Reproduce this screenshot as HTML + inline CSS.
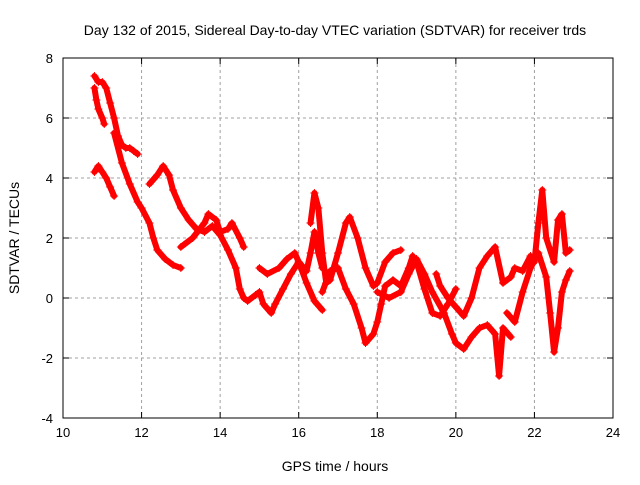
<!DOCTYPE html>
<html><head><meta charset="utf-8"><style>
body{margin:0;background:#fff;}
svg text{font-family:"Liberation Sans",sans-serif;fill:#000;}
</style></head><body>
<svg id="chart" width="640" height="480">
<text x="335" y="35" font-size="14" text-anchor="middle">Day 132 of 2015, Sidereal Day-to-day VTEC variation (SDTVAR) for receiver trds</text>
<text x="335" y="471" font-size="14" text-anchor="middle">GPS time / hours</text>
<text transform="translate(19,238) rotate(-90)" font-size="14" text-anchor="middle">SDTVAR / TECUs</text>
<g id="grid"></g>
<g id="ticks"></g>
<g id="series"></g>
<rect x="63" y="58" width="550" height="360" fill="none" stroke="#000" stroke-width="1"/>
</svg>
<script>
const xTicks=[10,12,14,16,18,20,22,24];
const yTicks=[-4,-2,0,2,4,6,8];
const trackA=[[10.8,7.4],[10.9,7.2],[11.0,7.2],[11.1,7.0],[11.2,6.5],[11.3,6.0],[11.4,5.4],[11.5,5.1],[11.6,5.0],[11.7,5.0],[11.8,4.9],[11.9,4.8]];
const trackB=[[10.8,7.0],[10.85,6.6],[10.9,6.3],[11.0,6.0],[11.05,5.8]];
const trackB2=[[10.8,4.2],[10.9,4.4],[11.0,4.2],[11.1,4.0],[11.2,3.7],[11.3,3.4]];
const trackC=[[11.3,5.5],[11.5,4.5],[11.7,3.8],[11.9,3.2],[12.0,3.0],[12.2,2.5],[12.3,2.0],[12.4,1.6],[12.6,1.3],[12.8,1.1],[13.0,1.0]];
const trackD=[[12.2,3.8],[12.4,4.1],[12.55,4.4],[12.7,4.1],[12.8,3.6],[13.0,3.0],[13.2,2.6],[13.4,2.3],[13.6,2.2],[13.8,2.4],[14.0,2.1],[14.2,1.6],[14.4,1.0],[14.5,0.3],[14.6,0.0],[14.7,-0.1],[14.9,0.1],[15.0,0.2],[15.1,-0.2],[15.3,-0.5],[15.4,-0.2],[15.6,0.3],[15.8,0.8],[16.0,1.2],[16.2,0.9],[16.3,1.5],[16.4,2.2],[16.5,1.5],[16.6,1.0]];
const trackE=[[13.0,1.7],[13.3,2.0],[13.6,2.5],[13.7,2.8],[13.9,2.6],[14.0,2.2],[14.2,2.3],[14.3,2.5],[14.5,2.0],[14.6,1.7]];
const trackF=[[15.0,1.0],[15.2,0.8],[15.5,1.0],[15.7,1.3],[15.9,1.5],[16.0,1.2],[16.2,0.5],[16.4,-0.1],[16.6,-0.4]];
const trackG=[[16.3,2.5],[16.4,3.5],[16.5,3.0],[16.6,1.5],[16.7,0.5],[16.8,0.6],[17.0,1.5],[17.2,2.5],[17.3,2.7],[17.5,2.0],[17.7,1.0],[17.9,0.4],[18.0,0.5],[18.2,1.2],[18.4,1.5],[18.6,1.6]];
const trackH=[[16.6,0.2],[16.8,0.9],[17.0,1.0],[17.2,0.3],[17.4,-0.2],[17.6,-1.0],[17.7,-1.5],[17.9,-1.2],[18.0,-0.8],[18.1,-0.2],[18.2,0.4],[18.4,0.6],[18.6,0.4],[18.8,1.0],[18.9,1.4],[19.0,1.2],[19.2,0.3],[19.4,-0.5],[19.6,-0.6],[19.8,-0.2],[20.0,0.3]];
const trackI=[[18.0,0.2],[18.3,0.0],[18.6,0.2],[18.8,0.8],[19.0,1.3],[19.2,0.8],[19.4,0.2],[19.7,-0.5],[19.9,-1.2],[20.0,-1.5],[20.2,-1.7],[20.4,-1.3],[20.6,-1.0],[20.8,-0.9],[21.0,-1.2],[21.1,-2.6],[21.2,-1.0],[21.4,-1.3]];
const trackJ=[[19.5,0.8],[19.6,0.4],[19.8,0.0],[20.0,-0.3],[20.2,-0.6],[20.4,0.0],[20.6,1.0],[20.8,1.4],[21.0,1.7],[21.2,0.5],[21.4,0.7],[21.5,1.0],[21.7,0.9],[21.9,1.4],[22.0,1.2],[22.1,2.5],[22.2,3.6],[22.3,2.0],[22.5,1.2],[22.6,2.6],[22.7,2.8],[22.8,1.5],[22.9,1.6]];
const trackK=[[21.3,-0.5],[21.5,-0.8],[21.7,0.2],[21.9,1.0],[22.1,1.5],[22.3,0.7],[22.4,-0.5],[22.5,-1.8],[22.6,-1.0],[22.7,0.2],[22.8,0.6],[22.9,0.9]];
const allTracks=[trackA,trackB,trackB2,trackC,trackD,trackE,trackF,trackG,trackH,trackI,trackJ,trackK];

const X0=63,X1=613,Y0=418,Y1=58;
function sx(v){return X0+(v-10)/(24-10)*(X1-X0);}
function sy(v){return Y0-(v+4)/12*(Y0-Y1);}
const NS="http://www.w3.org/2000/svg";
function mk(t,a,p){const e=document.createElementNS(NS,t);for(const k in a)e.setAttribute(k,a[k]);p.appendChild(e);return e;}
const grid=document.getElementById('grid'),ticks=document.getElementById('ticks'),ser=document.getElementById('series');
xTicks.forEach(v=>{
  const x=sx(v);
  if(v>10&&v<24){const l=mk('line',{x1:x,x2:x,y1:Y1,y2:Y0,stroke:'#a0a0a0','stroke-dasharray':'3,3'},grid);
  
  }
  mk('line',{x1:x,x2:x,y1:Y0,y2:Y0-6,stroke:'#000'},ticks);
  mk('line',{x1:x,x2:x,y1:Y1,y2:Y1+6,stroke:'#000'},ticks);
  const t=mk('text',{x:x,y:Y0+19,'font-size':13,'text-anchor':'middle'},ticks);t.textContent=v;
  
  
});
yTicks.forEach(v=>{
  const y=sy(v);
  if(v>-4&&v<8){const l=mk('line',{x1:X0,x2:X1,y1:y,y2:y,stroke:'#a0a0a0','stroke-dasharray':'3,3'},grid);
  
  }
  mk('line',{x1:X0,x2:X0+6,y1:y,y2:y,stroke:'#000'},ticks);
  mk('line',{x1:X1,x2:X1-6,y1:y,y2:y,stroke:'#000'},ticks);
  const t=mk('text',{x:X0-10,y:y+5,'font-size':13,'text-anchor':'end'},ticks);t.textContent=v;
  
  
});
allTracks.forEach((tr,i)=>{
  const pts=tr.map(p=>sx(p[0])+','+sy(p[1])).join(' ');
  const pl=mk('polyline',{points:pts,fill:'none',stroke:'#ff0000','stroke-width':6,'stroke-linejoin':'round','stroke-linecap':'round'},ser);
  
  
  tr.forEach(p=>{
    const x=sx(p[0]),y=sy(p[1]);
    const m=mk('path',{d:`M${x-4},${y}H${x+4}M${x},${y-4}V${y+4}`,stroke:'#ff0000','stroke-width':1},ser);
    
    
  });
});
</script>
</body></html>
